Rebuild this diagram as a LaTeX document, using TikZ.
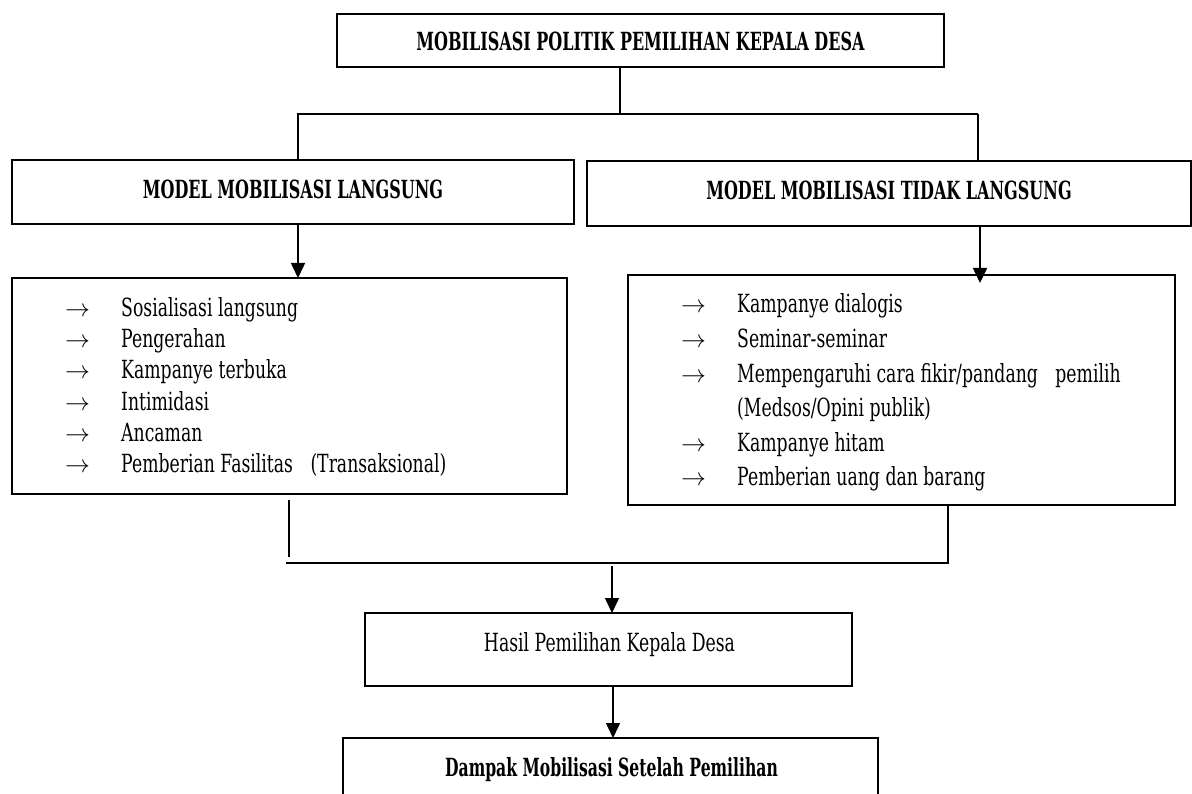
\documentclass[tikz,border=0pt]{standalone}
\usepackage{fontspec}
\setmainfont{DejaVu Serif}[FakeStretch=0.69]
\newfontfamily\hfont{DejaVu Serif}[FakeStretch=0.64]
\newfontfamily\dfont{DejaVu Serif}[FakeStretch=0.625]
\usetikzlibrary{arrows.meta}
\begin{document}
\begin{tikzpicture}[x=1pt,y=-1pt,
  box/.style={draw, line width=1.6pt, rectangle, inner sep=0pt, outer sep=0pt},
  txt/.style={font=\fontsize{25}{29}\selectfont, inner sep=0pt, anchor=base},
  head/.style={font=\hfont\bfseries\fontsize{25}{29}\selectfont, inner sep=0pt, anchor=base},
  item/.style={font=\fontsize{25}{29}\selectfont, inner sep=0pt, anchor=base west},
  thinline/.style={line width=1.4pt},
  sideline/.style={line width=2pt},
  barline/.style={line width=2.6pt},
  arr/.style={line width=1.6pt, -{Triangle[width=14pt,length=15pt]}}
]
\useasboundingbox (0,0) rectangle (1192,794);
\clip (0,0) rectangle (1192,794);

% boxes
\node[box, minimum width=607pt, minimum height=53pt] (top) at (640.5,40.5) {};
\node[box, minimum width=562pt, minimum height=64pt] (lh) at (293,192) {};
\node[box, minimum width=604pt, minimum height=65pt] (rh) at (889,193.5) {};
\node[box, minimum width=555pt, minimum height=216pt] (ll) at (289.5,386) {};
\node[box, minimum width=547pt, minimum height=230pt] (rl) at (901.5,390) {};
\node[box, minimum width=487pt, minimum height=73pt] (hasil) at (608.5,649.5) {};
\node[box, minimum width=535pt, minimum height=80pt] (dampak) at (610.5,778) {};

% headings
\node[head] (topt) at (640.5,51) {MOBILISASI POLITIK PEMILIHAN KEPALA DESA};
\node[head] (lht) at (293,199) {MODEL MOBILISASI LANGSUNG};
\node[head] (rht) at (889,200) {MODEL MOBILISASI TIDAK LANGSUNG};
\node[txt] (hasilt) at (609.5,651) {Hasil Pemilihan Kepala Desa};
\node[head, font=\dfont\bfseries\fontsize{25}{29}\selectfont] (dampakt) at (611.5,776) {Dampak Mobilisasi Setelah Pemilihan};

% left list
\node[item] (l1) at (65,317) {\makebox[56pt][l]{$\rightarrow$}Sosialisasi langsung};
\node[item] (l2) at (65,348) {\makebox[56pt][l]{$\rightarrow$}Pengerahan};
\node[item] (l3) at (65,379) {\makebox[56pt][l]{$\rightarrow$}Kampanye terbuka};
\node[item] (l4) at (65,410) {\makebox[56pt][l]{$\rightarrow$}Intimidasi};
\node[item] (l5) at (65,441) {\makebox[56pt][l]{$\rightarrow$}Ancaman};
\node[item] (l6) at (65,472) {\makebox[56pt][l]{$\rightarrow$}Pemberian Fasilitas\hspace{12pt} (Transaksional)};

% right list
\node[item] (r1) at (681,313) {\makebox[56pt][l]{$\rightarrow$}Kampanye dialogis};
\node[item] (r2) at (681,347.5) {\makebox[56pt][l]{$\rightarrow$}Seminar-seminar};
\node[item] (r3) at (681,382) {\makebox[56pt][l]{$\rightarrow$}Mempengaruhi cara fikir/pandang\hspace{12pt} pemilih};
\node[item] (r4) at (737,416.5) {(Medsos/Opini publik)};
\node[item] (r5) at (681,451) {\makebox[56pt][l]{$\rightarrow$}Kampanye hitam};
\node[item] (r6) at (681,485.5) {\makebox[56pt][l]{$\rightarrow$}Pemberian uang dan barang};

% connector coordinates
\coordinate (tc) at (620,114);
\coordinate (tl) at (298,114);
\coordinate (tr) at (978,114);
\coordinate (ra) at (980,283);
\coordinate (bl) at (289,563);
\coordinate (br) at (948,563);
\coordinate (bm) at (612,566);
\coordinate (hm) at (613,688);

% top connectors
\draw[thinline] (top.south -| tc) -- (tc);
\draw[barline] ([xshift=-1pt]tl) -- (tr);
\draw[sideline] (tl) -- (tl |- lh.north);
\draw[sideline] (tr) -- (tr |- rh.north);

% arrows to lists
\draw[arr] (lh.south -| tl) -- (ll.north -| tl);
\draw[arr] (rh.south -| ra) -- (ra);

% bottom connectors
\draw[barline] ([yshift=-6pt]ll.south -| bl) -- ([yshift=6pt]bl);
\draw[barline] (rl.south -| br) -- (br) -- ([xshift=-3pt]bl);
\draw[arr] (bm) -- (hasil.north -| bm);
\draw[arr] (hasil.south -| hm) -- (dampak.north -| hm);
\end{tikzpicture}
\end{document}
